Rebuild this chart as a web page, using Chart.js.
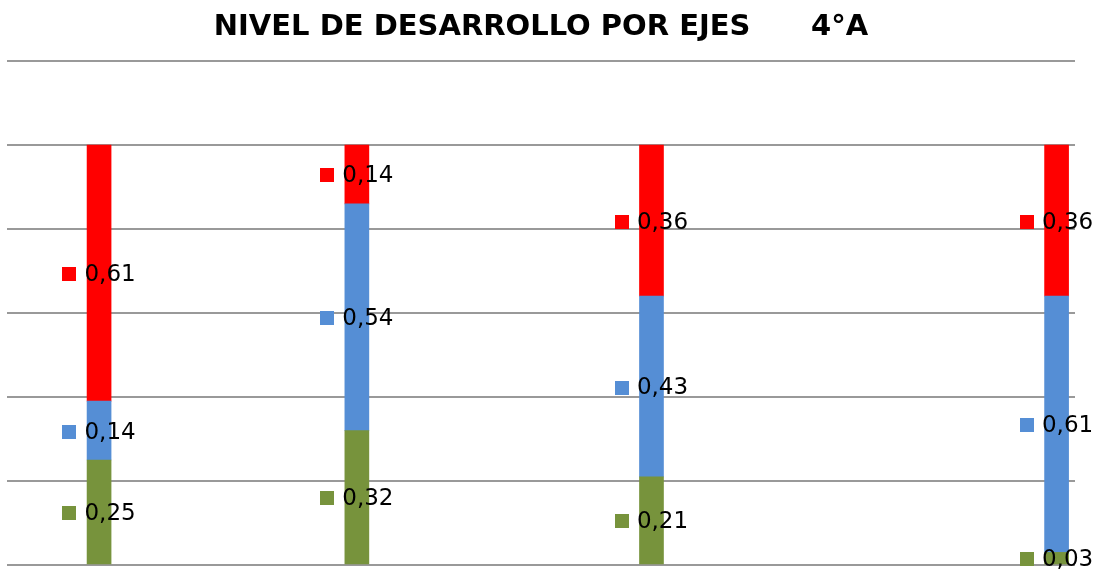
<!DOCTYPE html>
<html>
<head>
<meta charset="utf-8">
<script src="https://cdn.jsdelivr.net/npm/chart.js@4/dist/chart.umd.min.js"></script>
<style>
html,body{margin:0;padding:0;background:#fff;}
#wrap{width:1097px;height:571px;position:relative;}
</style>
</head>
<body>
<div id="wrap"><canvas id="c" width="1097" height="571"></canvas></div>
<script>
// 29 category slots; only four carry values (the others are empty rows)
const categories = ["", "", "Eje 1", "", "", "", "", "", "", "Eje 2", "", "", "", "", "", "", "", "Eje 3", "", "", "", "", "", "", "", "", "", "", "Eje 4"];
const seriesNames = ["Nivel bajo", "Nivel medio", "Nivel alto"];
const n = null;
const greenValues = [n, n, 0.25, n, n, n, n, n, n, 0.32, n, n, n, n, n, n, n, 0.21, n, n, n, n, n, n, n, n, n, n, 0.03];
const blueValues  = [n, n, 0.14, n, n, n, n, n, n, 0.54, n, n, n, n, n, n, n, 0.43, n, n, n, n, n, n, n, n, n, n, 0.61];
const redValues   = [n, n, 0.61, n, n, n, n, n, n, 0.14, n, n, n, n, n, n, n, 0.36, n, n, n, n, n, n, n, n, n, n, 0.36];
const yTicks = [0, 0.2, 0.4, 0.6, 0.8, 1.0, 1.2];
const titleText = "NIVEL DE DESARROLLO POR EJES      4°A";

const colors = ["#77933C", "#558ED5", "#FF0000"];

const labelPlugin = {
  id: 'segLabels',
  afterDatasetsDraw(chart) {
    const ctx = chart.ctx;
    ctx.save();
    ctx.font = '23px "DejaVu Sans"';
    ctx.textBaseline = 'middle';
    ctx.textAlign = 'left';
    chart.data.datasets.forEach((ds, di) => {
      const meta = chart.getDatasetMeta(di);
      meta.data.forEach((el, i) => {
        const v = ds.data[i];
        if (v === null || v === undefined) return;
        const txt = v.toFixed(2).replace('.', ',');
        const tw = ctx.measureText(txt).width;
        const sq = 14, gap = 8;
        const total = sq + gap + tw;
        const left = el.x - total / 2;
        const cy = (el.y + el.base) / 2;
        ctx.fillStyle = ds.backgroundColor;
        ctx.fillRect(Math.round(left), Math.round(cy - sq / 2 + 1), sq, sq);
        ctx.fillStyle = '#000';
        ctx.fillText(txt, left + sq + gap, cy + 2);
      });
    });
    ctx.restore();
  }
};

new Chart(document.getElementById('c'), {
  type: 'bar',
  data: {
    labels: categories,
    datasets: [
      { label: seriesNames[0], data: greenValues, backgroundColor: colors[0] },
      { label: seriesNames[1], data: blueValues, backgroundColor: colors[1] },
      { label: seriesNames[2], data: redValues, backgroundColor: colors[2] }
    ]
  },
  options: {
    responsive: false,
    devicePixelRatio: 1,
    animation: false,
    layout: { padding: { left: 7, right: 22, top: 0, bottom: 6 } },
    datasets: { bar: { barThickness: 24, borderWidth: 0 } },
    plugins: {
      legend: { display: false },
      tooltip: { enabled: false },
      title: {
        display: true,
        text: titleText,
        color: '#000',
        font: { family: '"DejaVu Sans"', size: 29, weight: 'bold', lineHeight: 1.2 },
        padding: { top: 10, bottom: 16.2 }
      }
    },
    scales: {
      x: {
        stacked: true,
        display: false
      },
      y: {
        stacked: true,
        min: 0,
        max: 1.2,
        afterBuildTicks: s => { s.ticks = yTicks.map(v => ({ value: v })); },
        afterFit: s => { s.width = 0; },
        ticks: { display: false },
        border: { display: false },
        grid: { color: '#999999', lineWidth: 2, drawTicks: false }
      }
    }
  },
  plugins: [labelPlugin]
});
</script>
</body>
</html>
